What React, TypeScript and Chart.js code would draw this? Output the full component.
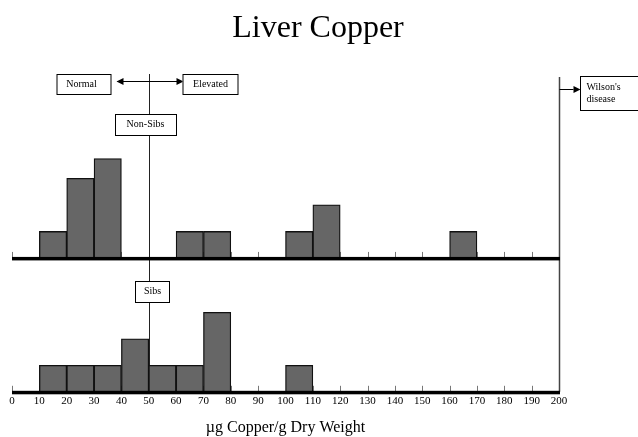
import React, { useEffect, useRef } from 'react';
import { Chart, registerables } from 'chart.js';

Chart.register(...registerables);

// Histogram bins (lower edge of each 10-unit bin, µg Copper/g dry weight)
const binStarts = [0, 10, 20, 30, 40, 50, 60, 70, 80, 90, 100, 110, 120, 130, 140, 150, 160, 170, 180, 190];
const binWidth = 10;
// Heights
const nonSibCounts = [0, 1, 3, 3.75, 0, 0, 1, 1, 0, 0, 1, 2, 0, 0, 0, 0, 1, 0, 0, 0];
const sibCounts = [0, 1, 1, 1, 2, 1, 1, 3, 0, 0, 1, 0, 0, 0, 0, 0, 0, 0, 0, 0];

const xMin = 0;
const xMax = 200;
const xStep = 10;
const normalCutoff = 50;
const wilsonCutoff = 200;

const titleText = 'Liver Copper';
const xTitle = 'µg Copper/g Dry Weight';
const normalLabel = 'Normal';
const elevatedLabel = 'Elevated';
const nonSibsLabel = 'Non-Sibs';
const sibsLabel = 'Sibs';
const wilsonLines = ["Wilson's", 'disease'];

const SERIF = "'Liberation Serif', 'Times New Roman', serif";

const toPoints = (counts: number[]) =>
  binStarts
    .map((s, i) => ({ x: s + binWidth / 2, y: counts[i] }))
    .filter((p) => p.y > 0);

function drawBox(ctx: CanvasRenderingContext2D, x: number, y: number, w: number, h: number) {
  ctx.fillStyle = '#fff';
  ctx.fillRect(x, y, w, h);
  ctx.strokeStyle = '#000';
  ctx.lineWidth = 1;
  ctx.strokeRect(x + 0.5, y + 0.5, w, h);
}

function arrowHead(ctx: CanvasRenderingContext2D, x: number, y: number, dir: number) {
  ctx.beginPath();
  ctx.moveTo(x, y);
  ctx.lineTo(x - dir * 7, y - 3.5);
  ctx.lineTo(x - dir * 7, y + 3.5);
  ctx.closePath();
  ctx.fillStyle = '#000';
  ctx.fill();
}

const annotations = {
  id: 'annotations',
  beforeDatasetsDraw(chart: any) {
    const { ctx, scales } = chart;
    const x = scales.x;
    const yTop = scales.yTop;
    const yBot = scales.yBot;
    const topBase = yTop.getPixelForValue(0);
    const botBase = yBot.getPixelForValue(0);
    ctx.save();
    // small upward tick marks
    ctx.strokeStyle = '#777';
    ctx.lineWidth = 1;
    for (let v = xMin; v < xMax; v += xStep) {
      const px = Math.round(x.getPixelForValue(v)) + 0.5;
      [topBase, botBase].forEach((b) => {
        ctx.beginPath();
        ctx.moveTo(px, b);
        ctx.lineTo(px, b - 6);
        ctx.stroke();
      });
    }
    // vertical reference lines
    const x50 = Math.round(x.getPixelForValue(normalCutoff)) + 0.5;
    ctx.strokeStyle = '#222';
    ctx.beginPath();
    ctx.moveTo(x50, 74);
    ctx.lineTo(x50, botBase);
    ctx.stroke();
    const xw = Math.round(x.getPixelForValue(wilsonCutoff)) + 0.5;
    ctx.strokeStyle = '#444';
    ctx.lineWidth = 1.5;
    ctx.beginPath();
    ctx.moveTo(xw, 77);
    ctx.lineTo(xw, botBase);
    ctx.stroke();
    ctx.restore();
  },
  afterDatasetsDraw(chart: any) {
    const { ctx, scales } = chart;
    const x = scales.x;
    const yTop = scales.yTop;
    const yBot = scales.yBot;
    const topBase = yTop.getPixelForValue(0);
    const botBase = yBot.getPixelForValue(0);
    const x0 = x.getPixelForValue(xMin);
    const x1 = x.getPixelForValue(xMax);
    const x50 = Math.round(x.getPixelForValue(normalCutoff)) + 0.5;
    const xw = Math.round(x.getPixelForValue(wilsonCutoff)) + 0.5;
    ctx.save();
    // thick baselines
    ctx.fillStyle = '#000';
    ctx.fillRect(x0, topBase - 1, x1 - x0 + 1, 3.5);
    ctx.fillRect(x0, botBase - 1, x1 - x0 + 1, 3.5);

    // title
    ctx.fillStyle = '#000';
    ctx.font = `32px ${SERIF}`;
    ctx.textAlign = 'center';
    ctx.textBaseline = 'alphabetic';
    ctx.fillText(titleText, 318, 37);

    ctx.font = `10px ${SERIF}`;
    ctx.textBaseline = 'middle';
    // Normal / Elevated arrow
    ctx.strokeStyle = '#000';
    ctx.lineWidth = 1;
    ctx.beginPath();
    ctx.moveTo(x50 - 32, 81.5);
    ctx.lineTo(x50 + 33, 81.5);
    ctx.stroke();
    arrowHead(ctx, x50 - 33, 81.5, -1);
    arrowHead(ctx, x50 + 34, 81.5, 1);

    drawBox(ctx, x50 - 93, 74, 54, 20);
    ctx.fillStyle = '#000';
    ctx.fillText(normalLabel, x50 - 68, 84.5);
    drawBox(ctx, x50 + 33, 74, 55, 20);
    ctx.fillStyle = '#000';
    ctx.fillText(elevatedLabel, x50 + 61, 84.5);

    // Non-Sibs / Sibs labels
    drawBox(ctx, x50 - 34.5, 114, 61, 21);
    ctx.fillStyle = '#000';
    ctx.fillText(nonSibsLabel, x50 - 4, 124.5);
    drawBox(ctx, x50 - 14.5, 281, 34, 21);
    ctx.fillStyle = '#000';
    ctx.fillText(sibsLabel, x50 + 3, 291.5);

    // Wilson's disease
    ctx.strokeStyle = '#000';
    ctx.beginPath();
    ctx.moveTo(xw, 89.5);
    ctx.lineTo(xw + 14, 89.5);
    ctx.stroke();
    arrowHead(ctx, xw + 21, 89.5, 1);
    drawBox(ctx, xw + 20.5, 76, 70, 34);
    ctx.fillStyle = '#000';
    ctx.textAlign = 'left';
    ctx.fillText(wilsonLines[0], xw + 27, 87);
    ctx.fillText(wilsonLines[1], xw + 27, 99);
    ctx.restore();
  },
};

export default function App() {
  const canvasRef = useRef<HTMLCanvasElement | null>(null);

  useEffect(() => {
    const canvas = canvasRef.current;
    if (!canvas) return;
    const unitsBot = 11.95;
    const topOffset = 5.05;
    const chart = new Chart(canvas, {
      type: 'bar',
      data: {
        datasets: [
          {
            label: 'Non-Sibs',
            data: toPoints(nonSibCounts),
            yAxisID: 'yTop',
            backgroundColor: '#666666',
            borderColor: '#111',
            borderWidth: 1.3,
            barPercentage: 1,
            categoryPercentage: 1,
            grouped: false,
          },
          {
            label: 'Sibs',
            data: toPoints(sibCounts),
            yAxisID: 'yBot',
            backgroundColor: '#666666',
            borderColor: '#111',
            borderWidth: 1.3,
            barPercentage: 1,
            categoryPercentage: 1,
            grouped: false,
          },
        ],
      },
      options: {
        responsive: false,
        animation: false,
        devicePixelRatio: 1,
        layout: { padding: { left: 12, right: 79, top: 75, bottom: 1 } },
        plugins: {
          legend: { display: false },
          tooltip: { enabled: false },
          title: { display: false },
        },
        scales: {
          x: {
            type: 'linear',
            min: xMin,
            max: xMax,
            offset: false,
            grid: { display: false, drawTicks: false },
            border: { display: false },
            ticks: {
              stepSize: xStep,
              padding: 3,
              maxRotation: 0,
              autoSkip: false,
              color: '#000',
              font: { family: SERIF, size: 11 },
            },
            title: {
              display: true,
              text: xTitle,
              color: '#000',
              font: { family: SERIF, size: 16, lineHeight: 1 },
              padding: { top: 9, bottom: 0 },
            },
          },
          yBot: {
            type: 'linear',
            display: false,
            min: 0,
            max: unitsBot,
          },
          yTop: {
            type: 'linear',
            display: false,
            min: -topOffset,
            max: unitsBot - topOffset,
          },
        },
      },
      plugins: [annotations],
    });
    return () => chart.destroy();
  }, []);

  return (
    <div style={{ position: 'fixed', left: 0, top: 0, width: 638, height: 437, background: '#fff' }}>
      <canvas ref={canvasRef} width={638} height={437} />
    </div>
  );
}
